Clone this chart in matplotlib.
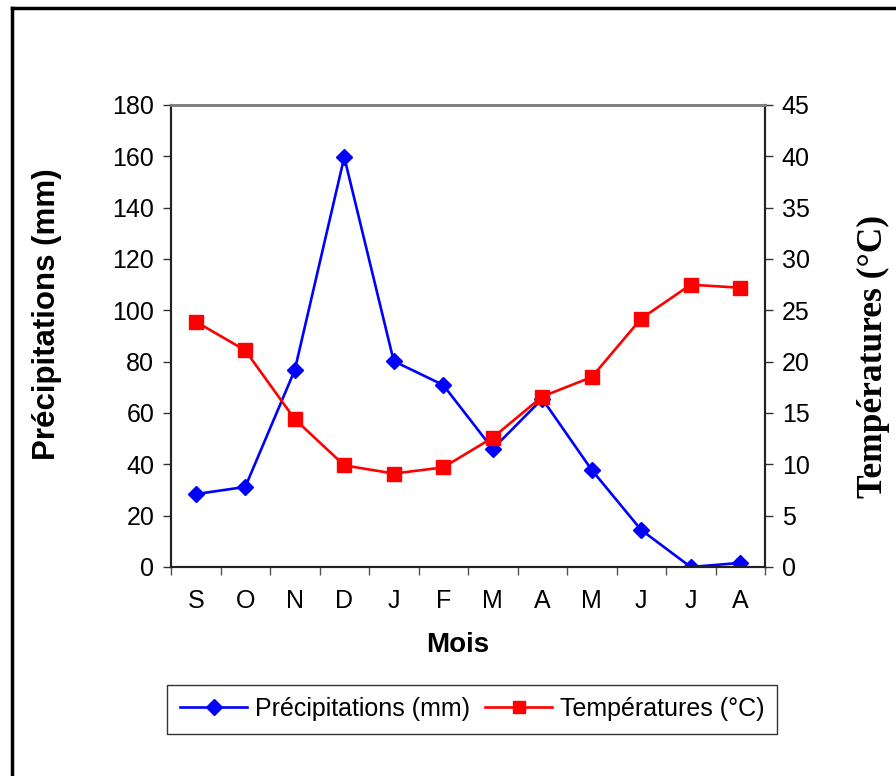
import matplotlib
matplotlib.use("Agg")
import matplotlib.pyplot as plt
from matplotlib.lines import Line2D
import numpy as np

months = ["S", "O", "N", "D", "J", "F", "M", "A", "M", "J", "J", "A"]
precip = [28.4, 31.2, 76.7, 159.7, 80.2, 70.9, 46.0, 65.5, 37.8, 14.4, 0.0, 1.6]
temp = [23.9, 21.1, 14.4, 9.9, 9.1, 9.7, 12.6, 16.6, 18.5, 24.2, 27.5, 27.2]
left_ticks = [0, 20, 40, 60, 80, 100, 120, 140, 160, 180]
right_ticks = [0, 5, 10, 15, 20, 25, 30, 35, 40, 45]

W, H = 896, 776
fig = plt.figure(figsize=(W / 100, H / 100), dpi=100)
fig.patch.set_facecolor("white")

# outer frame (left and top edges visible)
fig.add_artist(Line2D([11.5 / W, 11.5 / W], [0, 1 - 7.5 / H], transform=fig.transFigure,
                      color="black", lw=2.5))
fig.add_artist(Line2D([11.5 / W, 1], [1 - 7.5 / H, 1 - 7.5 / H], transform=fig.transFigure,
                      color="black", lw=2.5))

x0, x1, y0, y1 = 171, 765, 105, 567
ax = fig.add_axes([x0 / W, 1 - y1 / H, (x1 - x0) / W, (y1 - y0) / H])
ax2 = ax.twinx()

x = np.arange(len(months))
ax.plot(x, precip, color="#0000FF", lw=1.9, marker="D", ms=8.3, zorder=3)
ax2.plot(x, temp, color="#FF0000", lw=1.9, marker="s", ms=9.6, zorder=3)

ax.set_xlim(-0.5, len(months) - 0.5)
ax.set_ylim(0, 180)
ax2.set_ylim(0, 45)
ax.set_yticks(left_ticks)
ax2.set_yticks(right_ticks)

tick_font = dict(family="Liberation Sans", size=18)
ax.set_yticklabels([str(t) for t in left_ticks], **tick_font)
ax2.set_yticklabels([str(t) for t in right_ticks], **tick_font)

ax.set_xticks(x)
ax.set_xticklabels(months, **tick_font)
ax.set_xticks(np.arange(-0.5, len(months)), minor=True)
ax.tick_params(axis="x", which="major", length=0, pad=16)
ax.tick_params(axis="x", which="minor", length=6, width=1, direction="out", color="#555555")
ax.tick_params(axis="y", length=6, width=1, direction="out", pad=6, color="#333333")
ax2.tick_params(axis="y", length=6, width=1, direction="out", pad=6, color="#333333")

for a in (ax, ax2):
    a.spines["top"].set_color("#808080")
    a.spines["top"].set_linewidth(2)
    for s in ("left", "right", "bottom"):
        a.spines[s].set_color("#222222")
        a.spines[s].set_linewidth(1.5)

fig.text(458 / W, 1 - 645 / H, "Mois", family="Liberation Sans", size=20,
         weight="bold", ha="center", va="center")
fig.text(47 / W, 1 - 314 / H, "Précipitations (mm)", family="Liberation Sans", size=22.5,
         weight="bold", ha="center", va="center", rotation=90)
fig.text(873 / W, 1 - 357 / H, "Températures (°C)", family="Liberation Serif", size=25.5,
         weight="bold", ha="center", va="center", rotation=90)

handles = [Line2D([], [], color="#0000FF", lw=1.9, marker="D", ms=8),
           Line2D([], [], color="#FF0000", lw=1.9, marker="s", ms=9)]
leg = fig.legend(handles, ["Précipitations (mm)", "Températures (°C)"], ncol=2,
                 loc="center", bbox_to_anchor=((165 + 779) / 2 / W, 1 - 709 / H),
                 prop=dict(family="Liberation Sans", size=18), frameon=True, fancybox=False,
                 edgecolor="black", handlelength=2.7, handletextpad=0.3, columnspacing=0.6,
                 borderpad=0.5, borderaxespad=0)
leg.get_frame().set_linewidth(1)

fig.savefig("out.png", dpi=100, facecolor="white")
